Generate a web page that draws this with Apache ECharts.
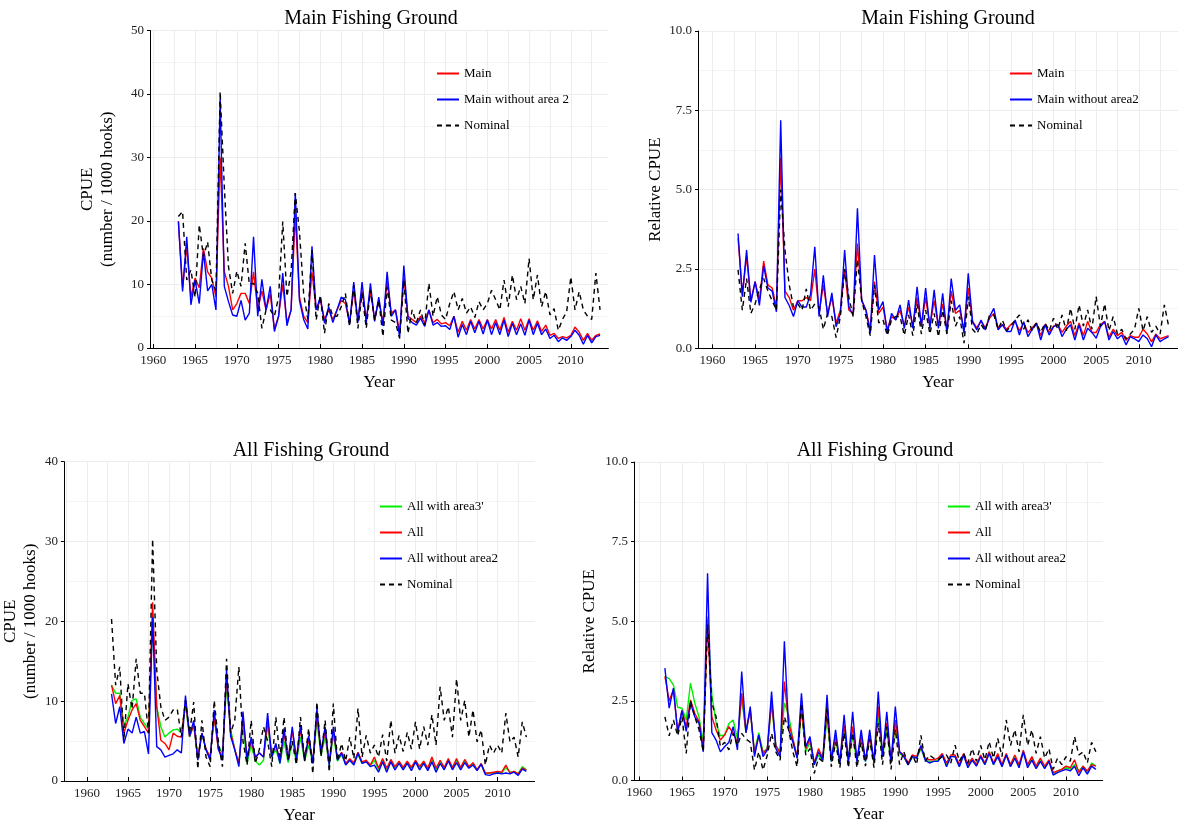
<!DOCTYPE html>
<html>
<head>
<meta charset="utf-8">
<title>CPUE - Main / All Fishing Ground</title>
<script src="https://cdn.jsdelivr.net/npm/echarts@6/dist/echarts.min.js"></script>
<style>
  html, body { margin: 0; padding: 0; background: #fff; }
  #chart { width: 1178px; height: 828px; }
</style>
</head>
<body>
<div id="chart"></div>
<script>
// time index: half-year steps from 1963.0 to 2013.5
const halfYears = [];
for (let i = 0; i < 102; i++) halfYears.push(1963 + i / 2);

const yearLabels = [1960, 1965, 1970, 1975, 1980, 1985, 1990, 1995, 2000, 2005, 2010];
const yearGrid = [1957.5, 1960, 1962.5, 1965, 1967.5, 1970, 1972.5, 1975, 1977.5, 1980, 1982.5,
  1985, 1987.5, 1990, 1992.5, 1995, 1997.5, 2000, 2002.5, 2005, 2007.5, 2010, 2012.5];

// ---- Main Fishing Ground, CPUE (number / 1000 hooks)
const mainCpue = [
  20.0, 9.5, 16.0, 8.0, 11.0, 9.5, 15.7, 12.0, 11.0, 8.0,
  30.0, 12.0, 9.7, 6.0, 7.0, 8.6, 8.6, 7.0, 12.0, 6.0,
  9.0, 6.0, 8.5, 3.0, 5.0, 10.0, 4.0, 6.0, 21.0, 8.0,
  5.0, 4.0, 12.0, 6.0, 7.5, 4.5, 6.0, 4.5, 6.0, 7.5,
  7.0, 4.0, 9.0, 4.5, 9.0, 4.5, 9.0, 4.5, 7.5, 4.0,
  10.5, 5.5, 6.0, 2.5, 11.0, 5.0, 4.5, 4.0, 5.0, 4.0,
  6.0, 4.0, 4.5, 3.8, 4.0, 3.5, 5.0, 2.5, 4.2, 2.8,
  4.5, 3.0, 4.5, 3.0, 4.5, 3.0, 4.5, 2.8, 4.8, 2.5,
  4.2, 2.8, 4.6, 2.8, 4.6, 2.8, 4.3, 2.6, 3.6, 2.0,
  2.3, 1.5, 1.8, 1.6, 2.0, 3.3, 2.5, 1.2, 2.3, 1.2,
  2.0, 2.2
];
const mainNoArea2Cpue = [
  19.9, 8.9, 17.5, 6.8, 10.7, 7.0, 15.2, 9.0, 10.0, 6.0,
  39.3, 9.7, 7.3, 5.2, 5.0, 7.5, 4.4, 5.5, 17.5, 5.0,
  10.8, 6.0, 9.7, 2.6, 5.0, 11.8, 3.5, 6.0, 24.4, 7.5,
  4.5, 3.0, 16.0, 6.0, 8.0, 3.9, 6.5, 4.0, 6.0, 8.0,
  7.6, 3.7, 10.4, 4.0, 10.4, 4.0, 10.2, 4.2, 8.0, 3.5,
  12.0, 5.0, 6.0, 1.7, 13.0, 4.7, 4.0, 3.6, 4.7, 3.4,
  6.0, 3.6, 4.0, 3.4, 3.5, 2.9, 5.0, 1.7, 3.7, 2.1,
  4.2, 2.4, 4.2, 2.2, 4.4, 2.1, 4.0, 2.1, 4.4, 1.8,
  3.9, 2.1, 3.8, 2.0, 4.4, 2.1, 3.9, 2.1, 3.0, 1.5,
  2.0, 1.0, 1.6, 1.2, 1.8, 2.8, 2.0, 0.6, 2.0, 0.8,
  1.8, 2.0
];
const mainNominalCpue = [
  20.7, 21.5, 10.7, 12.3, 8.0, 19.4, 14.4, 16.7, 10.7, 9.0,
  40.4, 25.4, 12.8, 8.6, 12.1, 9.7, 16.5, 10.0, 10.2, 8.6,
  3.1, 6.0, 6.0, 5.0, 8.0, 19.9, 8.1, 12.0, 24.4, 18.3,
  8.6, 4.5, 15.4, 4.4, 8.3, 2.3, 7.0, 5.0, 5.0, 6.5,
  8.6, 3.4, 9.9, 3.1, 8.6, 3.1, 9.1, 4.4, 7.5, 1.8,
  9.6, 4.4, 4.0, 1.5, 10.7, 2.3, 6.0, 4.0, 6.0, 3.6,
  10.2, 5.0, 8.1, 5.2, 4.5, 7.0, 8.9, 6.0, 7.8, 5.5,
  6.5, 4.8, 7.3, 6.0, 7.0, 9.1, 7.6, 6.0, 10.7, 6.5,
  11.5, 7.6, 9.7, 7.0, 14.1, 7.6, 11.5, 6.5, 8.9, 5.2,
  6.2, 2.8, 4.5, 5.7, 11.2, 6.0, 8.9, 6.0, 5.0, 4.5,
  11.8, 6.0
];

// ---- Main Fishing Ground, relative CPUE
const mainRel = [
  3.47, 1.7, 2.9, 1.5, 2.1, 1.5, 2.75, 2.0, 1.9, 1.3,
  6.0, 1.8, 1.6, 1.2, 1.5, 1.5, 1.6, 1.5, 2.5, 1.1,
  2.0, 1.1, 1.6, 0.8, 1.2, 2.5, 1.2, 1.1, 3.3, 1.5,
  1.2, 0.6, 2.1, 1.1, 1.3, 0.6, 1.0, 0.9, 1.2, 0.7,
  1.3, 0.7, 1.6, 0.75, 1.6, 0.7, 1.5, 0.7, 1.4, 0.6,
  1.8, 1.1, 1.2, 0.6, 1.9, 0.85, 0.65, 0.85, 0.65, 0.95,
  1.1, 0.65, 0.75, 0.6, 0.75, 0.85, 0.55, 0.8, 0.5, 0.65,
  0.8, 0.4, 0.75, 0.5, 0.7, 0.75, 0.5, 0.7, 0.85, 0.4,
  0.8, 0.4, 0.85, 0.5, 0.5, 0.75, 0.85, 0.35, 0.6, 0.4,
  0.5, 0.25, 0.4, 0.35, 0.35, 0.6, 0.45, 0.2, 0.45, 0.3,
  0.35, 0.4
];
const mainNoArea2Rel = [
  3.62, 1.63, 3.1, 1.45, 2.1, 1.35, 2.6, 1.9, 1.8, 1.15,
  7.19, 1.6, 1.35, 1.0, 1.5, 1.3, 1.3, 1.7, 3.2, 1.0,
  2.3, 1.0, 1.75, 0.68, 1.1, 3.1, 1.3, 1.05, 4.41, 1.52,
  1.2, 0.47, 2.94, 1.2, 1.47, 0.47, 1.1, 0.89, 1.37, 0.63,
  1.52, 0.63, 1.94, 0.68, 1.9, 0.63, 1.84, 0.63, 1.73, 0.47,
  2.2, 1.2, 1.37, 0.47, 2.36, 0.84, 0.58, 0.89, 0.58, 1.0,
  1.26, 0.58, 0.74, 0.53, 0.53, 0.89, 0.42, 0.84, 0.37, 0.6,
  0.79, 0.26, 0.74, 0.42, 0.68, 0.74, 0.37, 0.6, 0.74, 0.26,
  0.74, 0.26, 0.63, 0.5, 0.32, 0.68, 0.84, 0.26, 0.53, 0.3,
  0.42, 0.11, 0.37, 0.3, 0.21, 0.42, 0.3, 0.05, 0.42, 0.21,
  0.3, 0.37
];
const mainNominalRel = [
  2.47, 1.2, 2.2, 1.1, 1.4, 1.87, 2.2, 1.8, 1.5, 1.2,
  5.0, 3.1, 2.0, 1.3, 1.4, 1.2, 1.87, 1.2, 1.4, 1.3,
  0.6, 1.1, 1.0, 0.34, 1.0, 2.5, 1.6, 1.0, 2.8, 1.5,
  1.0, 0.4, 2.0, 0.8, 0.9, 0.4, 0.9, 1.0, 1.0, 0.41,
  1.05, 0.4, 1.4, 0.45, 1.2, 0.45, 1.1, 0.36, 1.2, 0.45,
  1.5, 0.7, 1.0, 0.16, 1.63, 0.6, 0.45, 0.75, 0.55, 1.05,
  1.05, 0.6, 0.89, 0.55, 0.7, 0.9, 1.05, 0.6, 0.9, 0.55,
  0.8, 0.5, 0.8, 0.55, 0.95, 0.6, 1.05, 0.55, 1.26, 0.6,
  1.37, 0.7, 1.21, 0.6, 1.63, 0.7, 1.4, 0.55, 1.0, 0.45,
  0.6, 0.3, 0.45, 0.6, 1.26, 0.55, 1.0, 0.5, 0.7, 0.45,
  1.37, 0.7
];

// ---- All Fishing Ground, CPUE (number / 1000 hooks)
const allArea3Cpue = [
  12.0, 11.0, 11.0, 7.0, 8.0, 10.1, 10.3, 8.0, 7.2, 6.5,
  20.1, 9.3, 6.8, 5.5, 6.0, 6.4, 6.5, 6.0, 9.5, 5.5,
  7.0, 3.0, 6.0, 4.0, 3.0, 8.0, 4.5, 3.4, 12.0, 6.5,
  3.9, 2.2, 7.0, 2.2, 4.5, 2.5, 2.0, 2.6, 7.0, 3.0,
  4.0, 2.2, 5.0, 2.3, 5.0, 2.4, 5.5, 2.5, 4.5, 2.2,
  7.5, 3.2, 5.5, 2.0, 5.8, 2.5, 3.3, 2.1, 2.6, 2.1,
  3.3, 2.2, 2.5, 1.9, 2.6, 1.4, 2.6, 1.4, 2.5, 1.6,
  2.4, 1.6, 2.4, 1.6, 2.5, 1.6, 2.4, 1.5, 2.7, 1.4,
  2.4, 1.6, 2.6, 1.6, 2.6, 1.6, 2.5, 1.7, 2.2, 1.4,
  2.1, 0.9, 1.0, 1.0, 1.1, 1.0, 1.7, 1.1, 1.2, 0.9,
  1.8, 1.4
];
const allCpue = [
  12.0, 9.7, 10.7, 6.0, 7.6, 8.9, 9.7, 7.6, 6.8, 6.0,
  22.4, 9.3, 5.1, 4.7, 3.9, 6.0, 5.6, 5.5, 10.1, 5.6,
  7.0, 3.0, 6.0, 4.0, 3.0, 8.0, 4.0, 3.0, 13.1, 6.0,
  4.0, 2.2, 8.0, 3.0, 5.0, 3.0, 3.5, 3.0, 7.5, 3.2,
  4.5, 2.5, 6.0, 2.8, 6.3, 2.8, 6.5, 2.8, 5.2, 2.4,
  8.3, 3.5, 6.2, 2.2, 6.3, 2.8, 3.6, 2.2, 2.8, 2.3,
  3.6, 2.4, 2.6, 2.0, 3.0, 1.6, 2.8, 1.6, 2.7, 1.8,
  2.5, 1.7, 2.5, 1.7, 2.6, 1.8, 2.5, 1.6, 3.0, 1.6,
  2.6, 1.7, 2.8, 1.7, 2.8, 1.7, 2.7, 1.8, 2.3, 1.4,
  2.2, 1.0, 1.0, 1.1, 1.2, 1.1, 2.0, 1.0, 1.2, 0.9,
  1.6, 1.4
];
const allNoArea2Cpue = [
  10.9, 7.2, 9.3, 4.7, 6.5, 6.0, 8.0, 6.0, 6.2, 3.4,
  20.5, 4.3, 3.9, 3.0, 3.2, 3.4, 3.9, 3.5, 10.7, 5.6,
  7.6, 2.6, 6.0, 3.9, 2.6, 8.9, 4.0, 2.6, 13.9, 5.6,
  3.9, 1.8, 8.7, 2.6, 5.5, 3.0, 3.5, 3.0, 8.5, 3.0,
  4.7, 2.2, 6.6, 2.6, 6.8, 2.6, 7.0, 2.6, 5.7, 2.2,
  9.1, 3.5, 6.8, 2.0, 6.8, 2.6, 3.5, 2.0, 2.6, 2.0,
  3.5, 2.2, 2.4, 1.8, 2.0, 1.1, 2.4, 1.1, 2.4, 1.4,
  2.2, 1.4, 2.2, 1.3, 2.4, 1.4, 2.2, 1.3, 2.4, 1.1,
  2.2, 1.4, 2.5, 1.4, 2.3, 1.4, 2.3, 1.6, 2.0, 1.3,
  2.1, 0.8, 0.7, 0.9, 1.0, 0.9, 1.0, 0.9, 1.1, 0.7,
  1.5, 1.2
];
const allNominalCpue = [
  20.3, 12.0, 14.3, 5.1, 12.2, 9.0, 15.3, 11.0, 11.0, 6.0,
  30.3, 13.9, 9.3, 7.6, 8.0, 8.9, 9.0, 5.5, 10.1, 6.0,
  9.9, 1.5, 7.6, 3.0, 1.8, 10.1, 5.0, 1.8, 15.3, 6.0,
  7.6, 14.3, 5.0, 2.0, 7.6, 2.2, 4.0, 6.8, 5.0, 1.8,
  8.0, 3.0, 8.0, 2.5, 5.0, 2.0, 8.0, 2.5, 6.6, 0.9,
  9.9, 3.0, 7.6, 1.1, 9.7, 2.5, 4.7, 2.5, 5.5, 2.8,
  9.1, 3.0, 5.7, 3.5, 4.5, 3.0, 5.8, 2.5, 7.6, 3.5,
  5.7, 3.7, 6.1, 4.0, 7.4, 4.0, 6.8, 4.5, 8.3, 4.5,
  11.8, 7.6, 9.3, 5.5, 12.8, 7.6, 10.1, 5.5, 8.9, 4.9,
  6.4, 2.0, 4.5, 3.5, 4.5, 3.5, 8.5, 4.9, 5.5, 3.0,
  7.4, 5.5
];

// ---- All Fishing Ground, relative CPUE
const allArea3Rel = [
  3.27, 3.2, 3.0, 2.3, 2.27, 1.9, 3.06, 2.43, 2.0, 1.2,
  5.15, 2.7, 1.8, 1.4, 1.43, 1.79, 1.9, 1.3, 2.6, 1.5,
  2.2, 0.9, 1.5, 0.9, 1.0, 2.4, 1.1, 0.9, 2.43, 2.06,
  1.3, 0.7, 2.2, 0.9, 1.2, 0.5, 0.8, 0.6, 2.0, 0.6,
  1.3, 0.55, 1.6, 0.6, 1.4, 0.6, 1.3, 0.6, 1.3, 0.55,
  2.0, 0.75, 1.6, 0.55, 1.8, 0.85, 0.75, 0.5, 0.75, 0.7,
  1.0, 0.65, 0.6, 0.6, 0.65, 0.8, 0.5, 0.75, 0.75, 0.45,
  0.8, 0.45, 0.65, 0.5, 0.75, 0.5, 0.9, 0.5, 0.8, 0.45,
  0.8, 0.45, 0.75, 0.45, 0.9, 0.45, 0.7, 0.4, 0.65, 0.4,
  0.6, 0.2, 0.3, 0.35, 0.4, 0.35, 0.5, 0.3, 0.45, 0.25,
  0.55, 0.45
];
const allRel = [
  3.27, 2.5, 2.85, 1.54, 2.2, 1.69, 2.53, 2.11, 1.85, 1.0,
  5.05, 2.0, 1.59, 1.27, 1.43, 1.69, 1.48, 1.2, 2.74, 1.5,
  2.22, 0.85, 1.4, 0.85, 1.0, 2.5, 1.1, 0.85, 3.11, 1.8,
  1.3, 0.75, 2.3, 1.0, 1.3, 0.55, 1.0, 0.7, 2.2, 0.65,
  1.4, 0.6, 1.75, 0.65, 1.69, 0.65, 1.4, 0.65, 1.4, 0.6,
  2.32, 0.8, 1.8, 0.6, 1.9, 0.9, 0.8, 0.55, 0.8, 0.75,
  1.05, 0.7, 0.65, 0.65, 0.7, 0.85, 0.55, 0.8, 0.8, 0.5,
  0.85, 0.5, 0.7, 0.5, 0.8, 0.55, 0.9, 0.55, 0.85, 0.5,
  0.85, 0.5, 0.8, 0.5, 0.95, 0.5, 0.75, 0.45, 0.7, 0.45,
  0.65, 0.25, 0.3, 0.35, 0.45, 0.4, 0.65, 0.25, 0.45, 0.3,
  0.5, 0.45
];
const allNoArea2Rel = [
  3.53, 2.27, 2.9, 1.5, 2.2, 1.54, 2.43, 2.0, 1.8, 0.9,
  6.51, 1.5, 1.27, 0.9, 1.06, 1.2, 1.69, 0.96, 3.42, 1.5,
  2.32, 0.75, 1.43, 0.75, 0.96, 2.79, 1.0, 0.75, 4.37, 1.59,
  1.2, 0.7, 2.74, 1.06, 1.38, 0.49, 0.9, 0.64, 2.69, 0.6,
  1.59, 0.54, 2.06, 0.59, 2.16, 0.59, 1.59, 0.6, 1.59, 0.55,
  2.79, 0.75, 2.16, 0.55, 2.32, 0.9, 0.75, 0.49, 0.75, 0.7,
  1.1, 0.64, 0.55, 0.6, 0.6, 0.8, 0.43, 0.75, 0.75, 0.43,
  0.8, 0.4, 0.64, 0.45, 0.75, 0.5, 0.85, 0.5, 0.75, 0.43,
  0.8, 0.43, 0.7, 0.4, 0.9, 0.4, 0.64, 0.37, 0.6, 0.37,
  0.6, 0.17, 0.25, 0.3, 0.35, 0.3, 0.45, 0.15, 0.4, 0.2,
  0.45, 0.35
];
const allNominalRel = [
  2.0, 1.4, 1.9, 1.4, 2.0, 0.85, 2.5, 2.0, 1.6, 0.9,
  4.9, 2.43, 2.0, 1.06, 1.2, 0.96, 1.48, 1.1, 1.48, 1.3,
  1.2, 0.33, 0.9, 0.33, 0.8, 1.48, 0.9, 0.64, 2.0, 1.59,
  0.9, 0.43, 2.43, 0.8, 1.0, 0.22, 0.7, 0.6, 2.32, 0.43,
  1.2, 0.4, 1.5, 0.4, 1.5, 0.4, 1.2, 0.45, 1.3, 0.4,
  1.8, 0.5, 1.69, 0.35, 1.6, 0.5, 0.9, 0.5, 0.8, 0.5,
  1.42, 0.6, 0.8, 0.7, 0.65, 0.75, 0.8, 0.55, 1.11, 0.6,
  0.85, 0.55, 1.0, 0.6, 1.1, 0.65, 1.22, 0.7, 1.32, 0.75,
  1.9, 1.1, 1.59, 0.9, 2.06, 1.1, 1.59, 0.85, 1.38, 0.7,
  1.0, 0.35, 0.7, 0.5, 0.75, 0.6, 1.38, 0.8, 0.9, 0.55,
  1.2, 0.9
];

const FONT = 'Liberation Serif';
const RED = '#ff0000', BLUE = '#0000ff', GREEN = '#00ee00', BLACK = '#000000';

const myChart = echarts.init(document.getElementById('chart'));

function pair(values) {
  return values.map((v, i) => [halfYears[i], v]);
}

// two x axes per panel: one for labels + grid lines, one only for the tick marks
function xAxes(gridIndex, min, max) {
  return [{
    type: 'value', gridIndex, min, max,
    name: 'Year', nameLocation: 'middle', nameGap: 26,
    nameTextStyle: { fontFamily: FONT, fontSize: 17, color: '#000' },
    axisLine: { show: true, onZero: false, lineStyle: { color: '#000', width: 1 } },
    axisTick: { show: false, customValues: yearGrid },
    axisLabel: { customValues: yearLabels, formatter: v => String(v), fontFamily: FONT, fontSize: 13, color: '#222', margin: 6 },
    splitLine: { show: true, lineStyle: { color: '#ededed', width: 1 } }
  }, {
    type: 'value', gridIndex, min, max,
    axisLine: { show: false },
    axisTick: { show: true, customValues: yearLabels, length: 4, lineStyle: { color: '#000' } },
    axisLabel: { show: false },
    splitLine: { show: false }
  }];
}

function yAxis(gridIndex, max, interval, digits, name, nameGap) {
  return {
    type: 'value', gridIndex, min: 0, max, interval,
    name, nameLocation: 'middle', nameGap, nameRotate: 90,
    nameTextStyle: { fontFamily: FONT, fontSize: 17, color: '#000', lineHeight: 20 },
    axisLine: { show: true, lineStyle: { color: '#000', width: 1 } },
    axisTick: { show: true, length: 3, lineStyle: { color: '#000' } },
    axisLabel: { formatter: v => v.toFixed(digits), fontFamily: FONT, fontSize: 13, color: '#222', margin: 6 },
    splitLine: { show: true, lineStyle: { color: '#ededed', width: 1 } },
    minorTick: { show: false, splitNumber: 2 },
    minorSplitLine: { show: true, lineStyle: { color: '#f3f3f3', width: 1 } }
  };
}

function line(name, values, color, panel, dashed) {
  return {
    type: 'line', name,
    xAxisIndex: panel * 2, yAxisIndex: panel,
    data: pair(values),
    showSymbol: false, symbol: 'none',
    lineStyle: { color, width: 1.4, type: dashed ? [5, 4] : 'solid' },
    itemStyle: { color },
    animation: false
  };
}

function legend(data, left, top) {
  return {
    data, left, top, orient: 'vertical', padding: 0,
    itemGap: 13, itemWidth: 22, itemHeight: 14,
    selectedMode: false,
    itemStyle: { opacity: 0 },
    textStyle: { fontFamily: FONT, fontSize: 13, color: '#000' }
  };
}

function title(text, left, top) {
  return { text, left, top, textAlign: 'center', textStyle: { fontFamily: FONT, fontSize: 20, fontWeight: 'normal', color: '#000' } };
}

myChart.setOption({
  backgroundColor: '#fff',
  textStyle: { fontFamily: FONT },
  title: [
    title('Main Fishing Ground', 366, 4),
    title('Main Fishing Ground', 943, 4),
    title('All Fishing Ground', 306, 436),
    title('All Fishing Ground', 870, 436)
  ],
  legend: [
    legend(['Main', 'Main without area 2', 'Nominal'], 436, 67),
    legend(['Main', 'Main without area2', 'Nominal'], 1009, 67),
    legend(["All with area3'", 'All', 'All without area2', 'Nominal'], 379, 500),
    legend(["All with area3'", 'All', 'All without area2', 'Nominal'], 947, 500)
  ],
  grid: [
    { left: 150, top: 30.5, width: 458.4, height: 317.5 },
    { left: 698, top: 31, width: 480, height: 317.3 },
    { left: 57, top: 461.7, width: 477.6, height: 319.3 },
    { left: 634, top: 462, width: 468.7, height: 318.5 }
  ],
  xAxis: [
    ...xAxes(0, 1959.6, 2014.5),
    ...xAxes(1, 1958.3, 2014.6),
    ...xAxes(2, 1957.2, 2014.5),
    ...xAxes(3, 1959.38, 2014.3)
  ],
  yAxis: [
    yAxis(0, 50, 10, 0, 'CPUE\n(number / 1000 hooks)', 32),
    yAxis(1, 10, 2.5, 1, 'Relative CPUE', 27),
    yAxis(2, 40, 10, 0, 'CPUE\n(number / 1000 hooks)', 8),
    yAxis(3, 10, 2.5, 1, 'Relative CPUE', 34)
  ],
  series: [
    line('Main', mainCpue, RED, 0),
    line('Main without area 2', mainNoArea2Cpue, BLUE, 0),
    line('Nominal', mainNominalCpue, BLACK, 0, true),

    line('Main', mainRel, RED, 1),
    line('Main without area2', mainNoArea2Rel, BLUE, 1),
    line('Nominal', mainNominalRel, BLACK, 1, true),

    line("All with area3'", allArea3Cpue, GREEN, 2),
    line('All', allCpue, RED, 2),
    line('All without area2', allNoArea2Cpue, BLUE, 2),
    line('Nominal', allNominalCpue, BLACK, 2, true),

    line("All with area3'", allArea3Rel, GREEN, 3),
    line('All', allRel, RED, 3),
    line('All without area2', allNoArea2Rel, BLUE, 3),
    line('Nominal', allNominalRel, BLACK, 3, true)
  ]
});
</script>
</body>
</html>
